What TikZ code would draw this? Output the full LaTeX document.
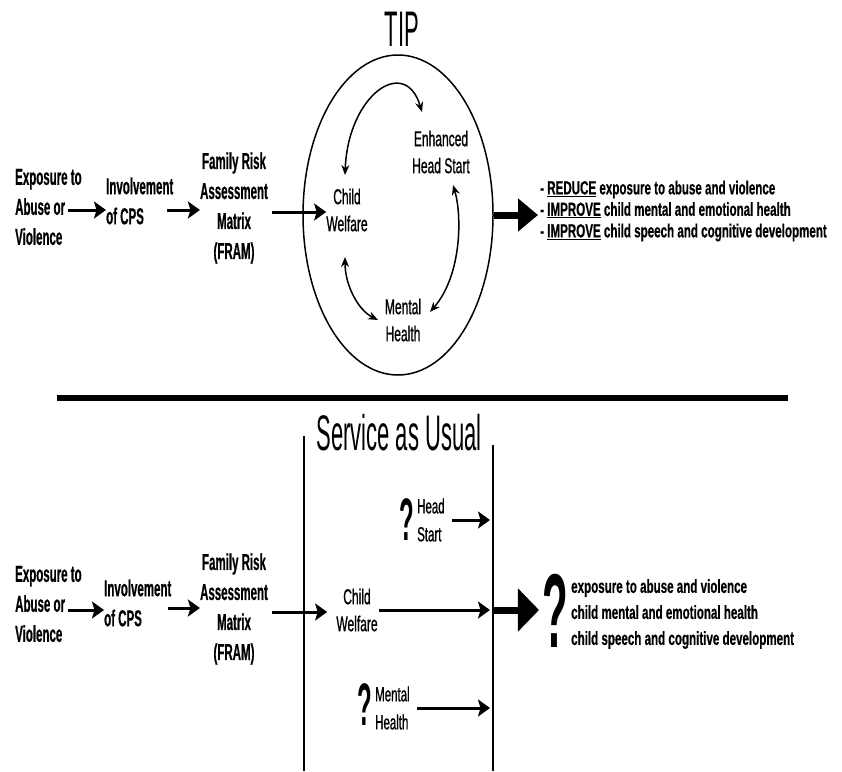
\documentclass[tikz,border=0pt]{standalone}
\usepackage{fontspec}
\usepackage{graphicx}
\setmainfont{Liberation Sans}
\newfontfamily\fBody[FakeStretch=0.50,FakeBold=0.6]{Liberation Sans}
\newfontfamily\fRight[FakeStretch=0.61,FakeBold=0.5]{Liberation Sans}
\newfontfamily\fIn[FakeStretch=0.56,FakeBold=0.8]{Liberation Sans}
\newfontfamily\fHead[FakeStretch=0.44]{Liberation Sans}
\usetikzlibrary{arrows.meta,shapes.geometric}
\tikzset{
  lefttxt/.style={inner sep=0pt, align=left, font=\fBody\bfseries\fontsize{23}{30}\selectfont},
  centtxt/.style={inner sep=0pt, align=center, font=\fBody\bfseries\fontsize{23}{30}\selectfont},
  intxt/.style={inner sep=0pt, align=center, font=\fIn\fontsize{21.5}{27}\selectfont},
  smalltxt/.style={inner sep=0pt, align=left, font=\fIn\fontsize{20.5}{28}\selectfont},
  righttop/.style={inner sep=0pt, align=left, font=\fRight\bfseries\fontsize{19}{21.5}\selectfont},
  rightbot/.style={inner sep=0pt, align=left, font=\fRight\bfseries\fontsize{19}{26}\selectfont},
  headtxt/.style={inner sep=0pt, font=\fHead\fontsize{50}{50}\selectfont},
  arr/.style={line width=3pt, -{Stealth[length=12pt,width=17pt,inset=2.5pt]}},
  dbl/.style={line width=1.5pt, {Stealth[length=10pt,width=8pt]}-{Stealth[length=10pt,width=8pt]}},
  bigarr/.style={line width=7pt, -{Triangle[length=20pt,width=32pt]}},
  vline/.style={line width=1.5pt},
}
\newcommand{\qmark}[1]{\scalebox{0.4}[1]{\fontsize{#1}{#1}\selectfont\bfseries ?}}
\begin{document}
\begin{tikzpicture}[x=1pt,y=-1pt]
\useasboundingbox (0,0) rectangle (842,771);
\fill[white] (0,0) rectangle (842,771);

% ---------- TOP: TIP ----------
\node[lefttxt, anchor=west] (ex1) at (15,207) {Exposure to\\Abuse or\\Violence};
\node[lefttxt, anchor=west] (inv1) at (106,201) {Involvement\\of CPS};
\node[centtxt] (fram1) at (234,208) {Family Risk\\Assessment\\Matrix\\(FRAM)};

\node[draw, ellipse, line width=1.5pt, minimum width=190pt, minimum height=320pt, inner sep=0pt] (circ) at (398,215) {};
\node[headtxt] (tip) at (402,29) {TIP};

\node[intxt] (eh1) at (441,152) {Enhanced\\Head Start};
\node[intxt] (cw1) at (347,210) {Child\\Welfare};
\node[intxt] (mh1) at (403,320) {Mental\\Health};

\coordinate (a1) at (68,210);
\coordinate (a2) at (167,210);
\coordinate (a3) at (272,212);
\draw[arr] (a1) -- (a1 -| inv1.west);
\draw[arr] (a2) -- (a2 -| fram1.west);
\draw[arr] (a3) -- (a3 -| cw1.west);

\coordinate (t1) at (345,175);
\coordinate (t2) at (422,112);
\coordinate (r1) at (453,185);
\coordinate (r2) at (430,312);
\coordinate (l1) at (345,257);
\coordinate (l2) at (378,320);
\draw[dbl] (t1) .. controls (348,95) and (405,55) .. (t2);
\draw[dbl] (r1) .. controls (462,215) and (462,275) .. (r2);
\draw[dbl] (l1) .. controls (345,285) and (358,310) .. (l2);

\node[righttop, anchor=west] (rtop) at (540,211)
  {- \underline{REDUCE} exposure to abuse and violence\\
   - \underline{IMPROVE} child mental and emotional health\\
   - \underline{IMPROVE} child speech and cognitive development};
\draw[bigarr, shorten >=2pt] (circ.east) -- (circ.east -| rtop.west);

% ---------- separator ----------
\coordinate (hl) at (57,398);
\coordinate (hr) at (788,398);
\draw[line width=6.5pt] (hl) -- (hr);

% ---------- BOTTOM: Service as Usual ----------
\node[headtxt] (sau) at (399,433) {Service as Usual};
\coordinate (vltop) at (304,436);
\coordinate (vlbot) at (304,771);
\coordinate (vrtop) at (493,445);
\coordinate (vrbot) at (493,771);
\draw[vline] (vltop) -- (vlbot);
\draw[vline] (vrtop) -- (vrbot);

\node[lefttxt, anchor=west] (ex2) at (15,604) {Exposure to\\Abuse or\\Violence};
\node[lefttxt, anchor=west] (inv2) at (104,603) {Involvement\\of CPS};
\node[centtxt] (fram2) at (234,609) {Family Risk\\Assessment\\Matrix\\(FRAM)};
\node[intxt] (cw2) at (357,610) {Child\\Welfare};

\coordinate (b1) at (68,610);
\coordinate (b2) at (168,608);
\coordinate (b3) at (272,612);
\draw[arr] (b1) -- (b1 -| inv2.west);
\draw[arr] (b2) -- (b2 -| fram2.west);
\draw[arr, shorten >=9pt] (b3) -- (b3 -| cw2.west);

\node[inner sep=0pt] (q1) at (407,520) {\qmark{60}};
\node[smalltxt, anchor=west] (hs2) at (417,520) {Head\\Start};
\node[inner sep=0pt] (q2) at (365,705) {\qmark{60}};
\node[smalltxt, anchor=west] (mh2) at (375,708) {Mental\\Health};

\draw[arr, shorten <=7pt, shorten >=3pt] (hs2.east) -- (hs2.east -| vrtop);
\draw[arr, shorten <=1pt, shorten >=3pt] (cw2.east) -- (cw2.east -| vrtop);
\draw[arr, shorten <=7pt, shorten >=3pt] (mh2.east) -- (mh2.east -| vrtop);

\node[inner sep=0pt] (q3) at (555,611) {\qmark{105}};
\node[rightbot, anchor=west] (rbot) at (571,614)
  {exposure to abuse and violence\\
   child mental and emotional health\\
   child speech and cognitive development};
\draw[bigarr, -{Triangle[length=21pt,width=42pt]}, shorten >=3pt] (cw2.east -| vrtop) -- (cw2.east -| q3.west);
\end{tikzpicture}
\end{document}
